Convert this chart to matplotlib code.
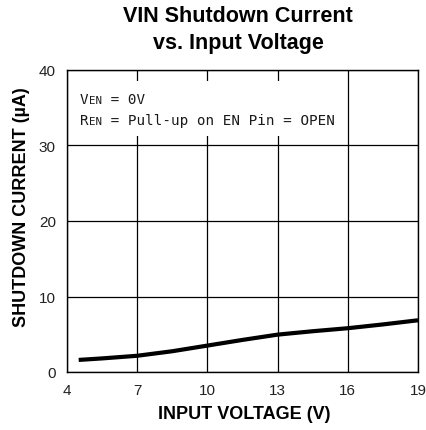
import matplotlib
matplotlib.use("Agg")
import matplotlib.pyplot as plt
from matplotlib.patches import Rectangle
from matplotlib.offsetbox import TextArea, HPacker, VPacker, AnchoredOffsetbox

# Data
vin = [4.5, 5.5, 7, 8.5, 10, 11.5, 13, 14.5, 16, 17.5, 19]
iq = [1.6, 1.8, 2.15, 2.75, 3.5, 4.25, 4.95, 5.4, 5.8, 6.3, 6.85]
xticks = [4, 7, 10, 13, 16, 19]
yticks = [0, 10, 20, 30, 40]

fig = plt.figure(figsize=(4.26, 4.31), dpi=100)
ax = fig.add_axes([67/426, 58/431, 351/426, 302/431])
ax.set_xlim(4, 19)
ax.set_ylim(0, 40)
ax.set_xticks(xticks)
ax.set_yticks(yticks)
ax.set_axisbelow(True)
ax.grid(True, color="black", linewidth=0.9)
ax.tick_params(length=0, labelsize=11, colors="#222222", pad=8)
for lab in ax.get_xticklabels() + ax.get_yticklabels():
    lab.set_family("Liberation Sans")
for s in ax.spines.values():
    s.set_linewidth(1.0)
    s.set_color("black")

ax.plot(vin, iq, color="black", linewidth=3, solid_capstyle="butt", zorder=3)

# white box hiding grid behind annotation
ax.add_patch(Rectangle((4.35, 31.2), 11.3, 7.3, facecolor="white",
                       edgecolor="none", zorder=1))

mono = "DejaVu Sans Mono"
def tpart(s, size):
    return TextArea(s, textprops=dict(family=mono, size=size, color="#1a1a1a"))

line1 = HPacker(children=[tpart("V", 10.3), tpart("EN", 7.8), tpart(" = 0V", 10.3)],
                align="baseline", pad=0, sep=0)
line2 = HPacker(children=[tpart("R", 10.3), tpart("EN", 7.8),
                          tpart(" = Pull-up on EN Pin = OPEN", 10.3)],
                align="baseline", pad=0, sep=0)
block = VPacker(children=[line1, line2], align="left", pad=0, sep=5)
ab = AnchoredOffsetbox(loc="upper left", child=block, frameon=False,
                       bbox_to_anchor=(80/426, 1 - 93/431),
                       bbox_transform=fig.transFigure, borderpad=0, pad=0)
ab.set_zorder(4)
ax.add_artist(ab)

fig.text(238/426, 1 - 17/431, "VIN Shutdown Current", ha="center", va="center",
         family="Liberation Sans", weight="bold", size=15.5)
fig.text(238/426, 1 - 43/431, "vs. Input Voltage", ha="center", va="center",
         family="Liberation Sans", weight="bold", size=15.5)
fig.text(244/426, 1 - 415/431, "INPUT VOLTAGE (V)", ha="center", va="center",
         family="Liberation Sans", weight="bold", size=13)
fig.text(22/426, 1 - 207/431, "SHUTDOWN CURRENT (µA)", ha="center", va="center",
         rotation=90, family="Liberation Sans", weight="bold", size=13)

fig.savefig("out.png", dpi=100)
